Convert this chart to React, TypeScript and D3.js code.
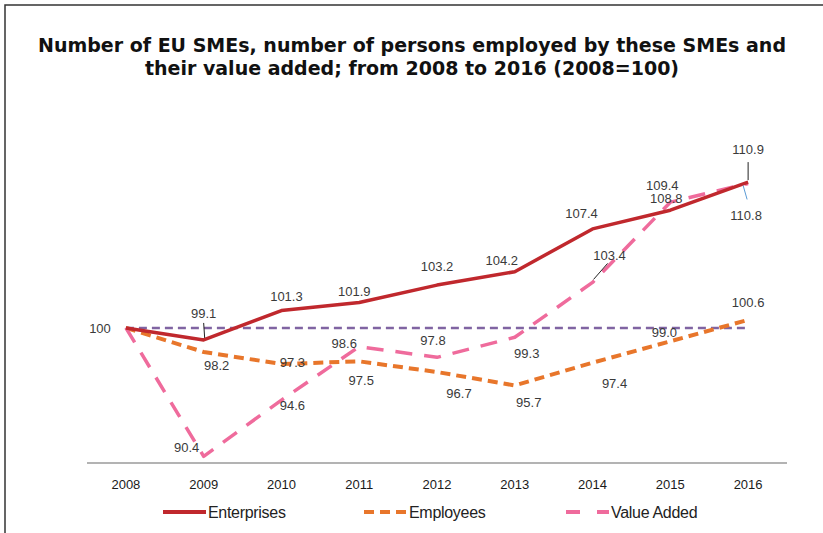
import { useEffect, useRef } from "react";
import * as d3 from "d3";

const years = ["2008", "2009", "2010", "2011", "2012", "2013", "2014", "2015", "2016"];
const enterprises = [100, 99.1, 101.3, 101.9, 103.2, 104.2, 107.4, 108.8, 110.9];
const employees = [100, 98.2, 97.3, 97.5, 96.7, 95.7, 97.4, 99.0, 100.6];
const valueAdded = [100, 90.4, 94.6, 98.6, 97.8, 99.3, 103.4, 109.4, 110.8];
const baseline = years.map(() => 100);

// label offsets [dx, dy] relative to each point (hand placed like the original)
const entOffsets = [[0, 0], [0, -22], [5, -10], [-5, -6], [0, -14], [-13, -7], [-11, -11], [-4, -7], [0, -28]];
const empOffsets = [[0, 0], [13, 18], [11, 3], [2, 24], [22, 26], [14, 22], [22, 25], [-6, -4], [0, -13]];
const vaOffsets = [[0, 0], [-17, -4], [11, 10], [-15, 1], [-4, -12], [12, 21], [17, -22], [-8, -12], [-2, 37]];

const W = 823;
const H = 533;

export default function App() {
  const svgRef = useRef<SVGSVGElement | null>(null);

  useEffect(() => {
    if (!svgRef.current) return;
    const svg = d3.select(svgRef.current);
    svg.selectAll("*").remove();

    svg.append("rect").attr("width", W).attr("height", H).attr("fill", "#fff");

    // frame (top + left edges visible in the crop)
    svg.append("path")
      .attr("d", `M5,${H} L5,5 L${W},5`)
      .attr("fill", "none")
      .attr("stroke", "#333")
      .attr("stroke-width", 1.5);

    // title
    const title = svg.append("text")
      .attr("text-anchor", "middle")
      .attr("font-family", "DejaVu Sans")
      .attr("font-weight", "bold")
      .attr("font-size", 19)
      .attr("fill", "#111");
    title.append("tspan").attr("x", 412).attr("y", 52)
      .text("Number of EU SMEs, number of persons employed by these SMEs and");
    title.append("tspan").attr("x", 412).attr("y", 75)
      .text("their value added; from 2008 to 2016 (2008=100)");

    const x = d3.scaleBand().domain(years).range([87, 787]);
    const cx = (i: number) => (x(years[i]) as number) + x.bandwidth() / 2;
    const y = d3.scaleLinear().domain([89.9, 113.3]).range([463, 150]);

    // x axis
    svg.append("line")
      .attr("x1", 87).attr("x2", 787)
      .attr("y1", y(89.9)).attr("y2", y(89.9))
      .attr("stroke", "#9a9a9a").attr("stroke-width", 1.5);

    svg.append("g").selectAll("text").data(years).enter().append("text")
      .attr("x", (_, i) => cx(i))
      .attr("y", 489)
      .attr("text-anchor", "middle")
      .attr("font-family", "Liberation Sans")
      .attr("font-size", 13)
      .attr("fill", "#1a1a1a")
      .text((d) => d);

    const line = d3.line<number>().x((_, i) => cx(i)).y((d) => y(d));

    const series = [
      { values: baseline, color: "#8064a2", width: 2.5, dash: "8,5" },
      { values: employees, color: "#e8762b", width: 4, dash: "10,6" },
      { values: valueAdded, color: "#ef6b9c", width: 3.5, dash: "17,12" },
      { values: enterprises, color: "#c0282d", width: 3.5, dash: null },
    ];

    series.forEach((s) => {
      svg.append("path")
        .datum(s.values)
        .attr("d", line)
        .attr("fill", "none")
        .attr("stroke", s.color)
        .attr("stroke-width", s.width)
        .attr("stroke-dasharray", s.dash)
        .attr("stroke-linejoin", "round");
    });

    // leader lines
    const leader = (i: number, v: number, x1: number, y1: number, x2: number, y2: number, c: string) => {
      svg.append("line")
        .attr("x1", cx(i) + x1).attr("y1", y(v) + y1)
        .attr("x2", cx(i) + x2).attr("y2", y(v) + y2)
        .attr("stroke", c).attr("stroke-width", 1);
    };
    leader(1, enterprises[1], 0, -17, 1, -2, "#222");
    leader(8, enterprises[8], 0, -20, 0, -2, "#222");
    leader(6, valueAdded[6], 15, -19, 1, -3, "#222");
    leader(8, valueAdded[8], -5, 2, -1, 16, "#5b9bd5");

    // data labels
    const labelFont = (sel: any) => sel
      .attr("text-anchor", "middle")
      .attr("font-family", "Liberation Sans")
      .attr("font-size", 13)
      .attr("fill", "#3a3a3a");

    const addLabels = (vals: number[], offs: number[][]) => {
      vals.forEach((v, i) => {
        if (i === 0) return;
        svg.append("text")
          .call(labelFont)
          .attr("x", cx(i) + offs[i][0])
          .attr("y", y(v) + offs[i][1])
          .text(v.toFixed(1));
      });
    };
    addLabels(enterprises, entOffsets);
    addLabels(employees, empOffsets);
    addLabels(valueAdded, vaOffsets);

    svg.append("text").call(labelFont)
      .attr("x", 100).attr("y", y(100) + 5)
      .text("100");

    // legend
    const legend = [
      { name: "Enterprises", color: "#c0282d", dash: null, x: 163 },
      { name: "Employees", color: "#e8762b", dash: "10,6", x: 364 },
      { name: "Value Added", color: "#ef6b9c", dash: "14,17", x: 566 },
    ];
    legend.forEach((l) => {
      svg.append("line")
        .attr("x1", l.x).attr("x2", l.x + 43)
        .attr("y1", 512).attr("y2", 512)
        .attr("stroke", l.color)
        .attr("stroke-width", 4)
        .attr("stroke-dasharray", l.dash);
      svg.append("text")
        .attr("x", l.x + 45).attr("y", 518)
        .attr("font-family", "Liberation Sans")
        .attr("font-size", 16)
        .attr("letter-spacing", -0.3)
        .attr("fill", "#222")
        .text(l.name);
    });
  }, []);

  return (
    <svg
      ref={svgRef}
      width={W}
      height={H}
      style={{ position: "absolute", left: 0, top: 0 }}
    ></svg>
  );
}
